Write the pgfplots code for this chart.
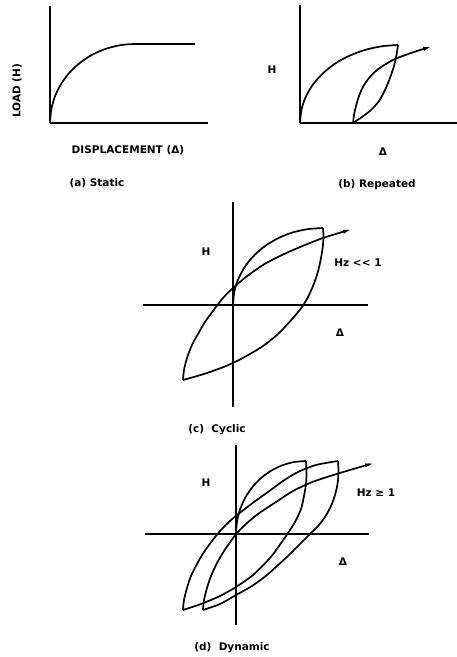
\documentclass[border=0pt]{standalone}
\usepackage{fontspec}
\setmainfont{DejaVu Sans}
\usepackage{pgfplots}
\pgfplotsset{compat=1.18}
\usetikzlibrary{arrows.meta}

\newcommand\lab{\fontsize{10.5}{12}\selectfont\bfseries}

\pgfplotsset{
  panel/.style={scale only axis, clip=false, ticks=none, enlargelimits=false},
  plain axes/.style={axis line style={line width=1.2pt,-}},
  curve/.style={line width=1.7pt, black, smooth, no markers},
  tip/.style={-{Latex[length=10pt,width=4pt]}},
}

\begin{document}
\begin{tikzpicture}[x=1pt,y=1pt]
\useasboundingbox (0,0) rectangle (457,657);

% (a) static loading
\begin{axis}[panel, axis lines*=left, plain axes, at={(50pt,534pt)}, anchor=south west,
  width=158pt, height=117pt, xmin=0, xmax=158, ymin=0, ymax=117]
\addplot[curve] coordinates {(0,0)(1.29,13.7)(5.13,27.0)(11.4,39.5)(19.9,50.8)(30.4,60.5)(42.5,68.4)(55.9,74.2)(70.2,77.8)(85,79)(115,79)(145,79)};
\end{axis}

% (b) repeated loading
\begin{axis}[panel, axis lines*=left, plain axes, at={(300pt,534pt)}, anchor=south west,
  width=157pt, height=118pt, xmin=0, xmax=157, ymin=0, ymax=118]
\addplot[curve] coordinates {(0,0)(1.5,13.5)(6.0,26.7)(13.4,39)(23.4,50.1)(35.7,59.8)(50,67.5)(65.8,73.3)(82.6,76.8)(98,78)};
\addplot[curve] coordinates {(98,78)(96.5,68)(94,57)(90,45)(85,33)(79,22)(71,13)(62,6)(53,0)};
\addplot[curve, tip] coordinates {(53,0)(54,8)(56,17)(59,27)(63,36)(69,45)(77,53)(86,59)(95,64)(114,71)(133,77)};
\end{axis}

% (c) cyclic loading
\begin{axis}[panel, axis lines*=middle, plain axes, at={(143pt,250pt)}, anchor=south west,
  width=225pt, height=205pt, xmin=-90, xmax=135, ymin=-102, ymax=103]
\addplot[curve] coordinates {(0,0)(1.37,13.4)(5.43,26.3)(12.06,38.5)(21.06,49.5)(32.1,59.0)(45,66.7)(59.2,72.4)(74.4,75.8)(90,77)};
\addplot[curve] coordinates {(90,77)(90.5,68)(89.5,56)(87,42)(84,30)(80,19)(75,8)(69,-2)(60,-13)(45,-29)(27,-43)(0,-58)(-26,-68)(-50,-75)};
\addplot[curve, tip] coordinates {(-50,-75)(-49,-65)(-46,-53)(-41,-40)(-35,-29)(-28,-17)(-20,-6)(-10,7)(0,17)(13,28)(30,40)(45,48)(60,55)(90,67)(120,76)};
\end{axis}

% (d) dynamic loading
\begin{axis}[panel, axis lines*=middle, plain axes, at={(145pt,32pt)}, anchor=south west,
  width=224pt, height=180pt, xmin=-91, xmax=133, ymin=-91, ymax=89]
\addplot[curve] coordinates {(0,0)(1.06,12.7)(4.22,25.0)(9.38,36.5)(16.4,46.9)(25,55.9)(35,63.2)(46.1,68.6)(57.8,71.9)(70,73)};
\addplot[curve] coordinates {(70,73)(70.5,62)(70,50)(68,38)(65,25)(59,12)(52,1)(43,-12)(34,-24)(17,-41)(0,-53)(-16,-62)(-35,-70)(-53,-76)};
\addplot[curve] coordinates {(-53,-76)(-52,-66)(-49,-54)(-45,-42)(-39,-30)(-32,-18)(-24,-7)(-15,4)(-5,14)(5,22)(18,32)(32,42)(47,53)(62,62)(80,69)(102,73)};
\addplot[curve] coordinates {(102,73)(102.5,62)(101.5,50)(99,39)(95,28)(89,17)(82,8)(74,0)(63,-11)(52,-22)(41,-32)(31,-41)(16,-52)(0,-61)(-16,-70)(-33,-76)};
\addplot[curve, tip] coordinates {(-33,-76)(-32,-66)(-29,-54)(-25,-42)(-19,-29)(-12,-17)(-5,-7)(0,0)(10,10)(22,20)(40,32)(57,43)(74,51)(91,57)(124,67)(139,71)};
\end{axis}

% labels
\node[font=\lab, rotate=90] at (17,566) {LOAD (H)};
\node[font=\lab] at (128,507) {DISPLACEMENT (Δ)};
\node[font=\lab] at (97,474) {(a) Static};

\node[font=\lab] at (272,587) {H};
\node[font=\lab] at (383,505) {Δ};
\node[font=\lab] at (377,472) {(b) Repeated};

\node[font=\lab] at (206,405) {H};
\node[font=\lab] at (358,394) {Hz {<}{<} 1};
\node[font=\lab] at (340,324) {Δ};
\node[font=\lab] at (217,227) {(c)\ \ Cyclic};

\node[font=\lab] at (206,174) {H};
\node[font=\lab] at (376,164) {Hz ≥ 1};
\node[font=\lab] at (343,95) {Δ};
\node[font=\lab] at (232,9) {(d)\ \ Dynamic};
\end{tikzpicture}
\end{document}
